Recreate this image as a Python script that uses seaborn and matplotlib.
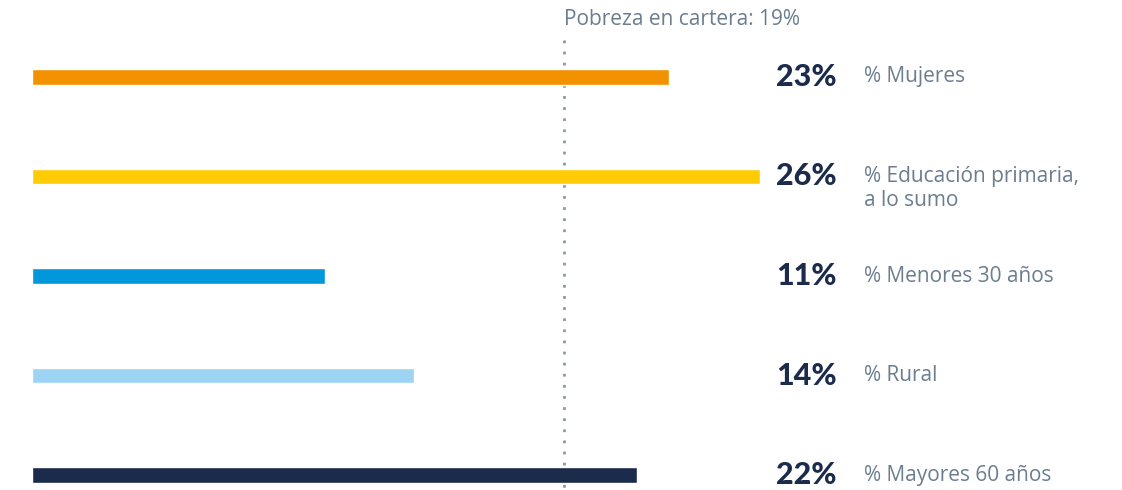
import matplotlib
matplotlib.use("Agg")
import matplotlib.pyplot as plt
import seaborn as sns
import pandas as pd

categories = ["% Mujeres", "% Educación primaria,\na lo sumo", "% Menores 30 años",
              "% Rural", "% Mayores 60 años"]
values = [22.75, 26.0, 10.46, 13.64, 21.6]
value_labels = ["23%", "26%", "11%", "14%", "22%"]
colors = ["#F39200", "#FFCB05", "#0098DA", "#9DD4F3", "#1B2B4B"]
reference_value = 19
reference_label = "Pobreza en cartera: 19%"

sns.set_theme(style="white")
plt.rcParams["font.family"] = ["Open Sans", "DejaVu Sans"]

W, H, DPI = 1122, 490, 100
fig = plt.figure(figsize=(W / DPI, H / DPI), dpi=DPI)
ax = fig.add_axes([0, 0, 1, 1])

df = pd.DataFrame({"cat": categories, "val": values})
sns.barplot(data=df, x="val", y="cat", hue="cat", palette=colors, legend=False,
            width=0.16, ax=ax, saturation=1, zorder=3)

# scale: x0 at pixel 32, 28 px per unit; rows at 77 + 99.5*i px
px_per_unit = 28.0
x0 = 32
row_px = 99.5
top_px = 77

# reference dotted line
ax.plot([reference_value, reference_value], [-(top_px - 40) / row_px, 5],
        color="#8C9AA8", linestyle=(0, (1, 3)), linewidth=2, zorder=1)
ax.set_xlim(-x0 / px_per_unit, (W - x0) / px_per_unit)
ax.set_ylim((H - top_px) / row_px, -top_px / row_px)

ax.text(reference_value, -(top_px - 20) / row_px, reference_label, ha="left", va="center",
        fontsize=15, color="#6B7D8F")

trans = ax.get_yaxis_transform()
for i, (lab, cat) in enumerate(zip(value_labels, categories)):
    ax.text(776 / W, i, lab, transform=trans, ha="left", va="center",
            fontsize=22, fontweight="black", color="#1B2B4B", family=["Lato", "DejaVu Sans"])
    for j, line in enumerate(cat.split("\n")):
        ax.text(864 / W, i + j * 24 / row_px, line, transform=trans, ha="left", va="center",
                fontsize=15, color="#6B7D8F")

ax.set_axis_off()
fig.savefig("out.png", dpi=DPI)
